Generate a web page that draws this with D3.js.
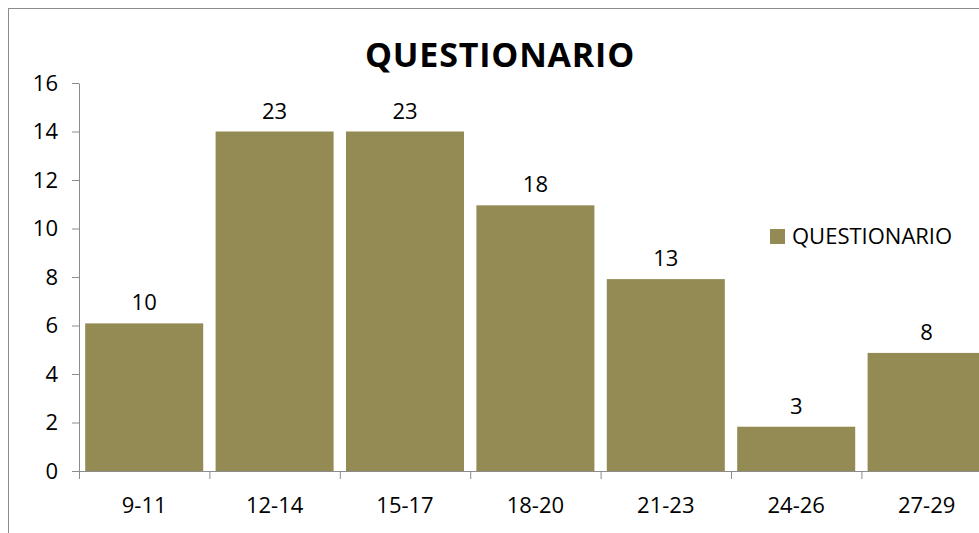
<!DOCTYPE html>
<html>
<head>
<meta charset="utf-8">
<script src="https://cdn.jsdelivr.net/npm/d3@7"></script>
<style>
  html, body { margin: 0; padding: 0; background: #fff; }
  svg { display: block; font-family: "Open Sans", Lato, sans-serif; }
</style>
</head>
<body>
<svg id="chart" width="979" height="533"></svg>
<script>
// Age groups and answers counted in the questionnaire
const categories = ["9-11", "12-14", "15-17", "18-20", "21-23", "24-26", "27-29"];
const values = [10, 23, 23, 18, 13, 3, 8];
// Labels printed along the vertical axis
const yTickLabels = [0, 2, 4, 6, 8, 10, 12, 14, 16];
const seriesName = "QUESTIONARIO";
const chartTitle = "QUESTIONARIO";

const svg = d3.select("#chart");
const W = 979, H = 533;
const plot = { left: 79, top: 83, bottom: 471 };
const step = 130.4;
const barColor = "#948A54";
const fontSize = 22;

// Outer chart frame
svg.append("rect")
  .attr("x", 8.5).attr("y", 8.5)
  .attr("width", W + 20).attr("height", H + 20)
  .attr("fill", "#fff").attr("stroke", "#8c8c8c").attr("stroke-width", 1);

const x = d3.scaleBand()
  .domain(categories)
  .range([plot.left, plot.left + step * categories.length])
  .paddingInner(0.095)
  .paddingOuter(0.0475);

// The axis shows 0–16 while a value of 23 reaches the 14 gridline
const axisMax = d3.max(yTickLabels);
const valueMax = axisMax * 23 / 14;
const yAxisScale = d3.scaleLinear().domain([0, axisMax]).range([plot.bottom, plot.top]);
const y = d3.scaleLinear().domain([0, valueMax]).range([plot.bottom, plot.top]);

// Bars
svg.append("g").selectAll("rect")
  .data(values)
  .join("rect")
  .attr("x", (d, i) => x(categories[i]))
  .attr("y", d => y(d))
  .attr("width", x.bandwidth())
  .attr("height", d => plot.bottom - y(d))
  .attr("fill", barColor);

// Value labels
svg.append("g").selectAll("text")
  .data(values)
  .join("text")
  .attr("x", (d, i) => x(categories[i]) + x.bandwidth() / 2)
  .attr("y", d => y(d) - 13)
  .attr("text-anchor", "middle")
  .attr("font-size", fontSize)
  .attr("fill", "#000")
  .text(d => d);

// Y axis
const yAxis = svg.append("g")
  .attr("transform", `translate(${plot.left},0)`)
  .call(d3.axisLeft(yAxisScale).tickValues(yTickLabels).tickSize(7).tickPadding(14).tickSizeOuter(0));
yAxis.select(".domain").attr("stroke", "#8c8c8c");
yAxis.selectAll(".tick line").attr("stroke", "#8c8c8c");
yAxis.selectAll(".tick text")
  .attr("font-size", fontSize)
  .attr("font-family", "'Open Sans', sans-serif")
  .attr("fill", "#000");

// X axis with tick marks on category boundaries
const xAxis = svg.append("g")
  .attr("transform", `translate(0,${plot.bottom})`);
xAxis.append("line")
  .attr("x1", plot.left).attr("x2", plot.left + step * categories.length)
  .attr("y1", 0.5).attr("y2", 0.5)
  .attr("stroke", "#8c8c8c");
xAxis.selectAll("line.bound")
  .data(d3.range(categories.length + 1))
  .join("line")
  .attr("class", "bound")
  .attr("x1", i => plot.left + i * step + 0.5)
  .attr("x2", i => plot.left + i * step + 0.5)
  .attr("y1", 0).attr("y2", 8)
  .attr("stroke", "#8c8c8c");
xAxis.selectAll("text")
  .data(categories)
  .join("text")
  .attr("x", d => x(d) + x.bandwidth() / 2)
  .attr("y", 42)
  .attr("text-anchor", "middle")
  .attr("font-size", fontSize)
  .attr("fill", "#000")
  .text(d => d);

// Title
svg.append("text")
  .attr("x", 500).attr("y", 67)
  .attr("text-anchor", "middle")
  .attr("font-size", 34)
  .attr("font-weight", "bold")
  .attr("letter-spacing", 0.8)
  .attr("fill", "#000")
  .text(chartTitle);

// Legend
const legend = svg.append("g").attr("transform", "translate(770,229)");
legend.append("rect").attr("width", 15).attr("height", 15).attr("fill", barColor);
legend.append("text")
  .attr("x", 22).attr("y", 15)
  .attr("font-size", fontSize)
  .attr("fill", "#000")
  .text(seriesName);
</script>
</body>
</html>
